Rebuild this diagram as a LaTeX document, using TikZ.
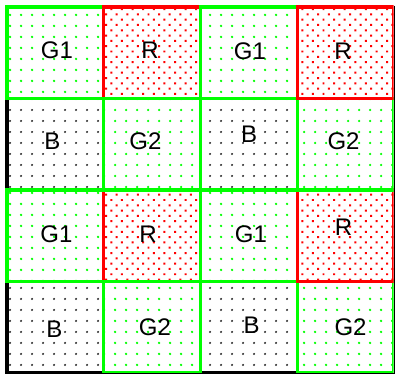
\documentclass[tikz,border=0pt]{standalone}
\usepackage{fontspec}
\setmainfont{Liberation Sans}
\usetikzlibrary{patterns.meta}
\tikzset{
 gpat/.style={pattern={Dots[radius=1.3pt,distance=10.5pt]},pattern color=green},
 rpat/.style={pattern={Dots[radius=1.4pt,distance=7.5pt,angle=45]},pattern color=red},
 bpat/.style={pattern={Dots[radius=1.2pt,distance=10.5pt]},pattern color=black!80},
 grim/.style={draw=green,line width=3.2pt},
 rrim/.style={draw=red,line width=3.2pt},
 brim/.style={draw=black,line width=3.2pt},
 lbl/.style={anchor=base,inner sep=0pt,font=\fontsize{24}{28}\selectfont}
}
\begin{document}
\begin{tikzpicture}[x=1pt,y=-1pt]
\useasboundingbox(0,0)rectangle(395,375);
\begin{scope}
\clip(0,0)rectangle(393.5,373);
\fill[gpat](7,7)rectangle(103.5,98.5);\fill[rpat](103.5,7)rectangle(200.5,98.5);\fill[gpat](200.5,7)rectangle(297.5,98.5);\fill[rpat](297.5,7)rectangle(394,98.5);
\fill[bpat](7,98.5)rectangle(103.5,190);\fill[gpat](103.5,98.5)rectangle(200.5,190);\fill[bpat](200.5,98.5)rectangle(297.5,190);\fill[gpat](297.5,98.5)rectangle(394,190);
\fill[gpat](7,190)rectangle(103.5,281.5);\fill[rpat](103.5,190)rectangle(200.5,281.5);\fill[gpat](200.5,190)rectangle(297.5,281.5);\fill[rpat](297.5,190)rectangle(394,281.5);
\fill[bpat](7,281.5)rectangle(103.5,373);\fill[gpat](103.5,281.5)rectangle(200.5,373);\fill[bpat](200.5,281.5)rectangle(297.5,373);\fill[gpat](297.5,281.5)rectangle(394,373);
\draw[brim](7,98.5)rectangle(103.5,190);\draw[brim](200.5,98.5)rectangle(297.5,190);\draw[brim](7,281.5)rectangle(103.5,373);\draw[brim](200.5,281.5)rectangle(297.5,373);
\draw[grim](297.5,281.5)rectangle(394,373);
\draw[grim](7,190)rectangle(103.5,281.5);\draw[rrim](103.5,190)rectangle(200.5,281.5);\draw[grim](200.5,190)rectangle(297.5,281.5);\draw[rrim](297.5,190)rectangle(394,281.5);
\draw[grim](103.5,281.5)rectangle(200.5,373);\draw[grim](297.5,98.5)rectangle(394,190);
\draw[grim](7,7)rectangle(103.5,98.5);\draw[rrim](103.5,7)rectangle(200.5,98.5);\draw[grim](103.5,98.5)rectangle(200.5,190);
\draw[grim](200.5,7)rectangle(297.5,98.5);\draw[rrim](297.5,7)rectangle(394,98.5);
\end{scope}
\draw[line width=1pt](394,5.5)--(394,373.5)--(5.5,373.5);
\node[lbl](g1a)at(57,58){G1};\node[lbl](ra)at(150,58){R};\node[lbl](g1b)at(250,59){G1};\node[lbl](rb)at(343,59.5){R};
\node[lbl](ba)at(52.5,149){B};\node[lbl](g2a)at(145.5,149){G2};\node[lbl](bb)at(249,142.5){B};\node[lbl](g2b)at(343.5,149.5){G2};
\node[lbl](g1c)at(56.5,242){G1};\node[lbl](rc)at(148,242){R};\node[lbl](g1d)at(251,242){G1};\node[lbl](rd)at(343.5,235.5){R};
\node[lbl](bc)at(54.5,337){B};\node[lbl](g2c)at(155,335){G2};\node[lbl](bd)at(251.5,333){B};\node[lbl](g2d)at(350.5,335){G2};
\end{tikzpicture}
\end{document}
